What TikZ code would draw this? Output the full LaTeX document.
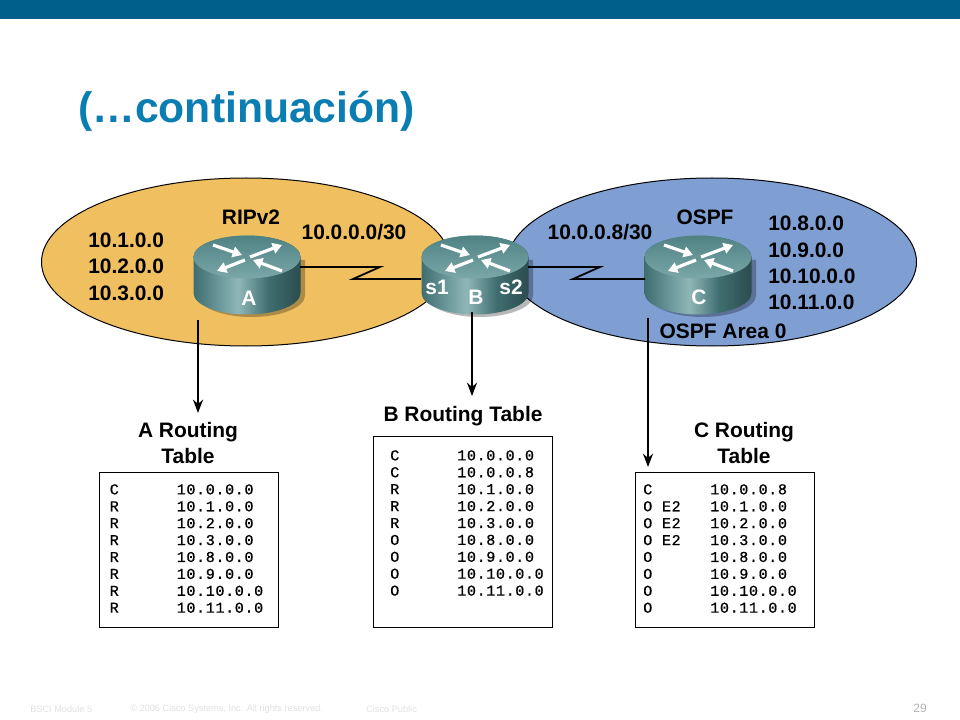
\documentclass[tikz,border=0pt]{standalone}
\usepackage{fontspec}
\setmainfont{Liberation Sans}
\newfontfamily\tblfont[LetterSpace=4.2,FakeBold=0.7]{Liberation Mono}
\usetikzlibrary{shapes.geometric,arrows.meta}
\definecolor{barblue}{HTML}{005F8B}
\definecolor{titleblue}{HTML}{0A7DB3}
\definecolor{areaorange}{HTML}{F0C060}
\definecolor{areablue}{HTML}{7F9FD3}
\definecolor{rdark}{HTML}{3F6E70}
\definecolor{rmid}{HTML}{6F9C9E}
\definecolor{rlight}{HTML}{8FB6B7}
\definecolor{rdeep}{HTML}{2B4C4E}
\definecolor{rtop}{HTML}{4F8284}
\definecolor{rtopl}{HTML}{7BA7A8}
\pgfdeclarehorizontalshading{rbody}{100bp}{color(0bp)=(rdark);
  color(25bp)=(rdark); color(38bp)=(rmid); color(46bp)=(rlight); color(60bp)=(rdark); color(75bp)=(rdeep); color(100bp)=(rdeep)}
\newcommand{\rt}[2]{\makebox[50.25pt][l]{#1}#2\\}
\tikzset{
  x=0.75pt,y=-0.75pt,
  lbl/.style={font=\fontsize{15.7pt}{19pt}\bfseries\selectfont,text=black,inner sep=0pt},
  rlbl/.style={font=\fontsize{15.7pt}{19pt}\bfseries\selectfont,text=white,inner sep=0pt},
  areashape/.style={ellipse,draw=black,line width=0.75pt,inner sep=0pt,minimum width=409*0.75pt,minimum height=168*0.75pt},
  tablebox/.style={draw=black,line width=0.75pt,inner sep=0pt,anchor=north west,minimum width=179*0.75pt},
  tabletext/.style={font=\tblfont\fontsize{11.3pt}{12.68pt}\selectfont,align=left,anchor=north west,inner sep=0pt},
  drop/.style={line width=1.5pt,-{Stealth[length=10pt,width=7.5pt]}},
  link/.style={line width=1.3pt,miter limit=10},
  foot/.style={font=\fontsize{6.9pt}{8pt}\selectfont,text=black!12,anchor=west,inner sep=0pt},
  rarrow/.style={white,line width=2.4pt,-{Triangle[length=7pt,width=8pt]}},
  routerbox/.style={inner sep=0pt,minimum width=107*0.75pt,minimum height=80*0.75pt},
  router/.pic={
    \fill[black,opacity=0.28] (-49,3) -- (-49,38.5) arc[start angle=180,end angle=0,x radius=53.5,y radius=21.5] -- (58,3) -- cycle;
    \shade[shading=rbody,shading angle=0] (-53.5,0) -- (-53.5,36) arc[start angle=180,end angle=0,x radius=53.5,y radius=21.5] -- (53.5,0) arc[start angle=0,end angle=-180,x radius=53.5,y radius=21.5] -- cycle;
    \shade[top color=rtop,bottom color=rtopl] (0,0) ellipse[x radius=53.5,y radius=21.5];
    \draw[rarrow] (-34,-12) -- (-5,-2);
    \draw[rarrow] (3,0) -- (35,-12);
    \draw[rarrow] (-2,3) -- (-30,14);
    \draw[rarrow] (35,14) -- (6,3);
  }
}
\begin{document}
\begin{tikzpicture}
\useasboundingbox (0,0) rectangle (960,720);
\fill[barblue] (0,0) rectangle (960,19);
\node[font=\fontsize{32pt}{38pt}\bfseries\selectfont,text=titleblue,anchor=base west,inner sep=0pt] (title) at (78,123) {(…continuación)};
% areas
\node[areashape,fill=areaorange] (areaL) at (246,262) {};
\node[areashape,fill=areablue] (areaR) at (712,262) {};
% routers
\pic at (247,257) {router};
\pic at (475,257) {router};
\pic at (698,257) {router};
\node[routerbox] (ra) at (247,275) {};
\node[routerbox] (rb) at (475,275) {};
\node[routerbox] (rc) at (698,275) {};
% links
\coordinate (la1) at (300,267);\coordinate (la2) at (380,267);\coordinate (la3) at (353,279);\coordinate (la4) at (421,279);
\coordinate (lb1) at (528,267);\coordinate (lb2) at (600,267);\coordinate (lb3) at (573,279);\coordinate (lb4) at (645,279);
\draw[link] (la1) -- (la2) -- (la3) -- (la4);
\draw[link] (lb1) -- (lb2) -- (lb3) -- (lb4);
% labels
\node[lbl] (rip) at (251,217) {RIPv2};
\node[lbl] (net1) at (354,232) {10.0.0.0/30};
\node[lbl] (net2) at (600,232) {10.0.0.8/30};
\node[lbl] (ospf) at (705,217) {OSPF};
\node[lbl,anchor=west] (n1) at (88,240) {10.1.0.0};
\node[lbl,anchor=west] (n2) at (88,266) {10.2.0.0};
\node[lbl,anchor=west] (n3) at (88,293) {10.3.0.0};
\node[lbl,anchor=west] (n8) at (768,223) {10.8.0.0};
\node[lbl,anchor=west] (n9) at (768,250) {10.9.0.0};
\node[lbl,anchor=west] (n10) at (768,276) {10.10.0.0};
\node[lbl,anchor=west] (n11) at (768,302) {10.11.0.0};
\node[lbl] (area0) at (723,331) {OSPF Area 0};
\node[rlbl] (la) at (249,298) {A};
\node[rlbl] (lb) at (476,297) {B};
\node[rlbl] (lc) at (699,297) {C};
\node[rlbl] (s1) at (437,287) {s1};
\node[rlbl] (s2) at (511,287) {s2};
% tables
\node[tablebox,minimum height=155*0.75pt] (ta) at (99,472) {};
\node[tablebox,minimum height=191*0.75pt] (tb) at (373,436) {};
\node[tablebox,minimum height=155*0.75pt] (tc) at (635,472) {};
\node[lbl,align=center,font=\fontsize{15.7pt}{19.5pt}\bfseries\selectfont] (ha) at (188,443) {A Routing\\Table};
\node[lbl] (hb) at (463,416) {B Routing Table};
\node[lbl,align=center,font=\fontsize{15.7pt}{19.5pt}\bfseries\selectfont] (hc) at (744,443) {C Routing\\Table};
\node[tabletext] (xa) at (109.5,484) {\rt{C}{10.0.0.0}\rt{R}{10.1.0.0}\rt{R}{10.2.0.0}\rt{R}{10.3.0.0}\rt{R}{10.8.0.0}\rt{R}{10.9.0.0}\rt{R}{10.10.0.0}\rt{R}{10.11.0.0}};
\node[tabletext] (xb) at (390,450) {\rt{C}{10.0.0.0}\rt{C}{10.0.0.8}\rt{R}{10.1.0.0}\rt{R}{10.2.0.0}\rt{R}{10.3.0.0}\rt{O}{10.8.0.0}\rt{O}{10.9.0.0}\rt{O}{10.10.0.0}\rt{O}{10.11.0.0}};
\node[tabletext] (xc) at (643,484) {\rt{C}{10.0.0.8}\rt{O E2}{10.1.0.0}\rt{O E2}{10.2.0.0}\rt{O E2}{10.3.0.0}\rt{O}{10.8.0.0}\rt{O}{10.9.0.0}\rt{O}{10.10.0.0}\rt{O}{10.11.0.0}};
% drop arrows
\coordinate (da1) at (198,320);\coordinate (da2) at (198,413);
\coordinate (db1) at (472,312);\coordinate (db2) at (472,396);
\coordinate (dc1) at (648,318);\coordinate (dc2) at (648,467);
\draw[drop] (da1) -- (da2);
\draw[drop] (db1) -- (db2);
\draw[drop] (dc1) -- (dc2);
% footer
\node[foot] (f1) at (30,709) {BSCI Module 5};
\node[foot] (f2) at (130,709) {© 2006 Cisco Systems, Inc. All rights reserved.};
\node[foot] (f3) at (366,709) {Cisco Public};
\node[font=\fontsize{9pt}{10pt}\selectfont,text=black!30,inner sep=0pt] (pg) at (920,708) {29};
\end{tikzpicture}
\end{document}
